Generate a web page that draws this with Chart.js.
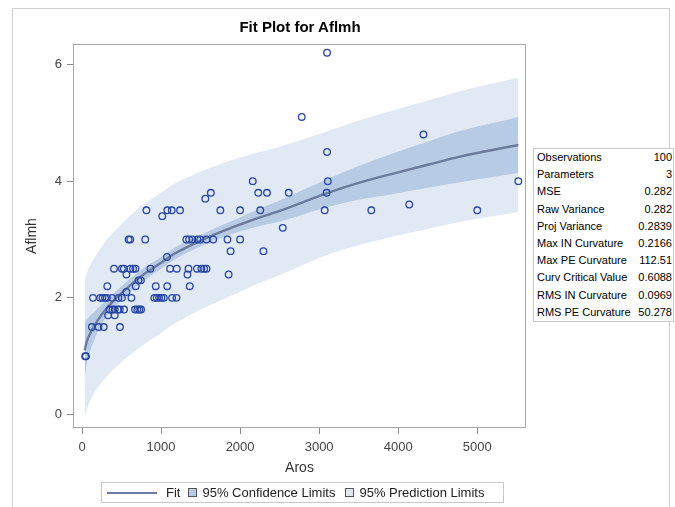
<!DOCTYPE html>
<html>
<head>
<meta charset="utf-8">
<script src="https://cdn.jsdelivr.net/npm/chart.js@4.4.1/dist/chart.umd.min.js"></script>
<style>
  body { margin: 0; background: #fff; font-family: "Liberation Sans", Arial, sans-serif; }
  #wrap { position: relative; width: 675px; height: 507px; overflow: hidden; }
  #wrap canvas { position: absolute; left: 0; top: 0; }
  .outer { position: absolute; left: 12px; top: 8px; width: 656px; height: 520px;
           border-left: 1px solid #cfcfcf; border-top: 1px solid #cfcfcf; border-right: 1px solid #cfcfcf; }
  .title { position: absolute; left: 100px; width: 400px; top: 18px; text-align: center;
           font-weight: bold; font-size: 15px; color: #000; }
  .stats { position: absolute; left: 533px; top: 148px; width: 139px; background: #fff;
           border: 1px solid #c8c8c8; font-size: 11px; color: #000; }
  .stats div { display: flex; justify-content: space-between; height: 17.2px; line-height: 17.2px;
               padding: 0 1px 0 3px; white-space: nowrap; }
  .legend { position: absolute; left: 101px; top: 482px; width: 401px; height: 19px;
            border: 1px solid #c8c8c8; display: flex; align-items: center; font-size: 13px; color: #222; }
  .legend .ln { width: 50px; height: 2px; background: #6c7ca3; margin-left: 5px; }
  .legend .sw { width: 7px; height: 7px; border: 1px solid #555; }
</style>
</head>
<body>
<div id="wrap">
  <div class="outer"></div>
  <canvas id="fitChart" width="675" height="507"></canvas>
  <div class="title">Fit Plot for Aflmh</div>
  <div class="stats" id="stats"></div>
  <div class="legend">
    <span class="ln"></span><span style="margin-left:9px">Fit</span>
    <span class="sw" style="margin-left:8px;background:#b8cbe4"></span><span style="margin-left:5px">95% Confidence Limits</span>
    <span class="sw" style="margin-left:10px;background:#e0e8f3"></span><span style="margin-left:5px">95% Prediction Limits</span>
  </div>
</div>
<script>
// observed points (Aros, Aflmh)
const aros = [
  3100, 2780, 4320, 3100,
  2160, 3110, 5520,
  1630, 2230, 2340, 2615, 3095,
  1560, 4140,
  815, 1080, 1135, 1240, 1750, 2000, 2255, 3070, 3660, 5000,
  1015, 2540,
  590, 610, 800, 1320, 1355, 1395, 1460, 1495, 1575, 1660, 1840, 2000,
  1880, 2295, 1075,
  405, 505, 530, 612, 646, 676, 866, 1114, 1199, 1347, 1455, 1510, 1545, 1575,
  562, 1334, 1855,
  715, 745,
  320, 680, 933, 1078, 1363,
  562,
  139, 230, 260, 290, 315, 380, 460, 505, 625, 915, 945, 975, 1005, 1035, 1140, 1195,
  351, 385, 414, 456, 477, 532, 671, 700, 725, 747,
  329, 414,
  125, 210, 275, 480,
  40, 50
];
const aflmh = [
  6.2, 5.1, 4.8, 4.5,
  4.0, 4.0, 4.0,
  3.8, 3.8, 3.8, 3.8, 3.8,
  3.7, 3.6,
  3.5, 3.5, 3.5, 3.5, 3.5, 3.5, 3.5, 3.5, 3.5, 3.5,
  3.4, 3.2,
  3.0, 3.0, 3.0, 3.0, 3.0, 3.0, 3.0, 3.0, 3.0, 3.0, 3.0, 3.0,
  2.8, 2.8, 2.7,
  2.5, 2.5, 2.5, 2.5, 2.5, 2.5, 2.5, 2.5, 2.5, 2.5, 2.5, 2.5, 2.5, 2.5,
  2.4, 2.4, 2.4,
  2.3, 2.3,
  2.2, 2.2, 2.2, 2.2, 2.2,
  2.1,
  2.0, 2.0, 2.0, 2.0, 2.0, 2.0, 2.0, 2.0, 2.0, 2.0, 2.0, 2.0, 2.0, 2.0, 2.0, 2.0,
  1.8, 1.8, 1.8, 1.8, 1.8, 1.8, 1.8, 1.8, 1.8, 1.8,
  1.7, 1.7,
  1.5, 1.5, 1.5, 1.5,
  1.0, 1.0
];

// fit curve and limits
const bandX     = [34, 60, 106, 200, 317, 500, 739, 1000, 1161, 1582, 2005, 2250, 2500, 3093, 3500, 3937, 4400, 4781, 5520];
const fitY      = [1.10, 1.25, 1.40, 1.62, 1.83, 2.08, 2.36, 2.60, 2.75, 3.03, 3.26, 3.38, 3.49, 3.79, 3.97, 4.13, 4.29, 4.42, 4.62];
const confUpper = [1.58, 1.63, 1.70, 1.82, 1.97, 2.20, 2.47, 2.70, 2.85, 3.13, 3.38, 3.53, 3.67, 4.03, 4.26, 4.48, 4.69, 4.86, 5.10];
const confLower = [0.62, 0.87, 1.10, 1.42, 1.69, 1.96, 2.25, 2.50, 2.65, 2.93, 3.14, 3.23, 3.31, 3.55, 3.68, 3.78, 3.89, 3.98, 4.14];
const predUpper = [2.28, 2.42, 2.56, 2.78, 3.00, 3.26, 3.56, 3.80, 3.95, 4.21, 4.41, 4.50, 4.59, 4.85, 5.04, 5.21, 5.39, 5.54, 5.77];
const predLower = [-0.08, 0.08, 0.24, 0.46, 0.66, 0.90, 1.16, 1.40, 1.55, 1.85, 2.11, 2.26, 2.39, 2.73, 2.90, 3.05, 3.19, 3.30, 3.47];

const xTicks = [0, 1000, 2000, 3000, 4000, 5000];
const yTicks = [0, 2, 4, 6];

// fit statistics table
const statLabels = ["Observations", "Parameters", "MSE", "Raw Variance", "Proj Variance",
  "Max IN Curvature", "Max PE Curvature", "Curv Critical Value", "RMS IN Curvature", "RMS PE Curvature"];
const statValues = ["100", "3", "0.282", "0.282", "0.2839", "0.2166", "112.51", "0.6088", "0.0969", "50.278"];

const statsBox = document.getElementById("stats");
statLabels.forEach((lab, i) => {
  const row = document.createElement("div");
  row.innerHTML = "<span>" + lab + "</span><span>" + statValues[i] + "</span>";
  statsBox.appendChild(row);
});

const pts = aros.map((x, i) => ({ x: x, y: aflmh[i] }));
const curve = (ys) => bandX.map((x, i) => ({ x: x, y: ys[i] }));

const bandLine = {
  showLine: true, pointRadius: 0, borderWidth: 0,
  borderColor: "rgba(0,0,0,0)", cubicInterpolationMode: "monotone"
};

const framePlugin = {
  id: "frame",
  afterDatasetsDraw(chart) {
    const { ctx, chartArea: a } = chart;
    ctx.save();
    ctx.strokeStyle = "#a9a9a9";
    ctx.lineWidth = 1;
    ctx.strokeRect(a.left + 0.5, a.top + 0.5, a.right - a.left - 1, a.bottom - a.top - 1);
    ctx.restore();
  }
};

Chart.defaults.font.family = '"Liberation Sans", Arial, sans-serif';

new Chart(document.getElementById("fitChart"), {
  type: "scatter",
  data: {
    datasets: [
      {
        label: "Aflmh", data: pts,
        pointStyle: "circle", pointRadius: 3.3, borderWidth: 1.3,
        borderColor: "#2746a3", backgroundColor: "rgba(0,0,0,0)"
      },
      Object.assign({}, bandLine, {
        label: "Fit", data: curve(fitY), borderWidth: 2.4, borderColor: "#6c7a9e"
      }),
      Object.assign({}, bandLine, {
        label: "95% Confidence Limits", data: curve(confUpper),
        fill: "+1", backgroundColor: "#b8cbe4"
      }),
      Object.assign({}, bandLine, { label: "conf lower", data: curve(confLower) }),
      Object.assign({}, bandLine, {
        label: "95% Prediction Limits", data: curve(predUpper),
        fill: "+1", backgroundColor: "#e1e9f4"
      }),
      Object.assign({}, bandLine, { label: "pred lower", data: curve(predLower) })
    ]
  },
  options: {
    responsive: false,
    animation: false,
    layout: { padding: { left: 0, top: 44, right: 149, bottom: 27 } },
    plugins: { legend: { display: false }, tooltip: { enabled: false } },
    scales: {
      x: {
        type: "linear", min: -114, max: 5617,
        afterFit: (s) => { s.height = 52; },
        afterBuildTicks: (s) => { s.ticks = xTicks.map(v => ({ value: v })); },
        border: { display: false },
        grid: { drawOnChartArea: false, drawTicks: true, tickLength: 6, tickColor: "#8c8c8c" },
        ticks: { padding: 6, color: "#444", font: { size: 13 }, callback: (v) => String(v) },
        title: { display: true, text: "Aros", color: "#333", font: { size: 14 }, padding: { top: 0, bottom: 3 } }
      },
      y: {
        type: "linear", min: -0.23, max: 6.35,
        afterFit: (s) => { s.width = 73; },
        afterBuildTicks: (s) => { s.ticks = yTicks.map(v => ({ value: v })); },
        border: { display: false },
        grid: { drawOnChartArea: false, drawTicks: true, tickLength: 6, tickColor: "#8c8c8c" },
        ticks: { padding: 5, color: "#444", font: { size: 13 }, callback: (v) => String(v) },
        title: { display: true, text: "Aflmh", color: "#333", font: { size: 14 }, padding: { top: 24, bottom: 0 } }
      }
    }
  },
  plugins: [framePlugin]
});
</script>
</body>
</html>
